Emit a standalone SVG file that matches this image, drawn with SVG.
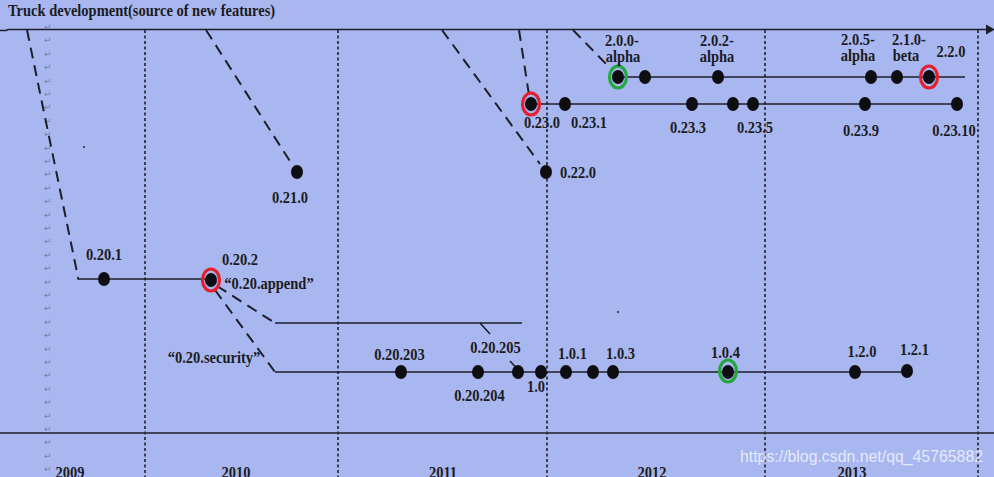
<svg xmlns="http://www.w3.org/2000/svg" width="994" height="477" viewBox="0 0 994 477">
<style>
.t{font-family:"Liberation Serif","Times New Roman",serif;font-weight:bold;font-size:14.5px;fill:#1b1b22;text-anchor:middle;transform-box:fill-box;transform-origin:center;transform:scaleY(1.22)}
.st{text-anchor:start}
.dot{fill:#0d0d12}
.red{fill:none;stroke:#e5202b;stroke-width:3.2}
.grn{fill:none;stroke:#22a83c;stroke-width:3.2}
.sol{fill:none;stroke:#1e1e28;stroke-width:1.6}
.dash{fill:none;stroke:#1e1e28;stroke-width:2;stroke-dasharray:11 7}
.vdot{fill:none;stroke:#2a2a35;stroke-width:1.7;stroke-dasharray:3 2.5}
.pm{font-family:"DejaVu Sans",sans-serif;font-size:9px;fill:#7c8198}
.wm{font-family:"Liberation Sans",Arial,sans-serif;font-size:16px;fill:#ffffff;fill-opacity:0.72}
</style>
<rect width="994" height="477" fill="#a9b7f1"/>

<g id="frame">
<path class="sol" d="M0 30.5 H6 L8 29.5 H988"/>
<polygon points="986,24.5 995,29.5 986,34.5" fill="#1e1e28"/>
<line class="sol" x1="0" y1="433" x2="994" y2="433" stroke="#3a3f55"/>
<line class="vdot" x1="145" y1="30" x2="145" y2="477"/>
<line class="vdot" x1="338" y1="30" x2="338" y2="477"/>
<line class="vdot" x1="547" y1="30" x2="547" y2="477"/>
<line class="vdot" x1="765" y1="30" x2="765" y2="477"/>
<line class="vdot" x1="978" y1="30" x2="978" y2="477"/>
</g>

<text class="t st" x="8" y="15">Truck development(source of new features)</text>

<g id="paramarks" class="pm">
<text x="44" y="30">↵</text><text x="44" y="43.4">↵</text><text x="44" y="56.8">↵</text><text x="44" y="70.2">↵</text><text x="44" y="83.6">↵</text><text x="44" y="97">↵</text><text x="44" y="110.4">↵</text><text x="44" y="123.8">↵</text><text x="44" y="137.2">↵</text><text x="44" y="150.6">↵</text><text x="44" y="164">↵</text><text x="44" y="177.4">↵</text><text x="44" y="190.8">↵</text><text x="44" y="204.2">↵</text><text x="44" y="217.6">↵</text><text x="44" y="231">↵</text><text x="44" y="244.4">↵</text><text x="44" y="257.8">↵</text><text x="44" y="271.2">↵</text><text x="44" y="284.6">↵</text><text x="44" y="298">↵</text><text x="44" y="311.4">↵</text><text x="44" y="324.8">↵</text><text x="44" y="338.2">↵</text><text x="44" y="351.6">↵</text><text x="44" y="365">↵</text><text x="44" y="378.4">↵</text><text x="44" y="391.8">↵</text><text x="44" y="405.2">↵</text><text x="44" y="418.6">↵</text><text x="44" y="432">↵</text><text x="44" y="445.4">↵</text><text x="44" y="458.8">↵</text><text x="44" y="472.2">↵</text>
</g>

<g id="connectors">
<line class="dash" x1="27" y1="30" x2="78" y2="277"/>
<polyline class="sol" points="78,277 78,279 211,279"/>
<line class="dash" x1="206" y1="30" x2="293" y2="166"/>
<line class="dash" x1="442" y1="30" x2="540" y2="164"/>
<line class="dash" x1="519" y1="30" x2="529" y2="95"/>
<line class="dash" x1="573" y1="30" x2="610" y2="68"/>
<line class="sol" x1="531" y1="104" x2="957" y2="104"/>
<line class="sol" x1="618" y1="77" x2="965" y2="77"/>
<line class="dash" x1="217" y1="286" x2="275" y2="323"/>
<line class="dash" x1="215" y1="290" x2="275" y2="372"/>
<line class="sol" x1="275" y1="323" x2="522" y2="323"/>
<line class="sol" x1="480" y1="323" x2="490" y2="334"/>
<line class="sol" x1="510" y1="361" x2="520" y2="372"/>
<line class="sol" x1="275" y1="372" x2="907" y2="372"/>
</g>

<g id="n-2.0.0-alpha"><ellipse class="dot" cx="618" cy="77" rx="6" ry="7"/><ellipse class="grn" cx="618" cy="77" rx="8.5" ry="11"/><text class="t" x="622" y="45">2.0.0-</text><text class="t" x="623" y="61">alpha</text></g>
<g id="n-645"><ellipse class="dot" cx="645" cy="77" rx="6" ry="7"/></g>
<g id="n-2.0.2-alpha"><ellipse class="dot" cx="718" cy="77" rx="6" ry="7"/><text class="t" x="717" y="45">2.0.2-</text><text class="t" x="717" y="61">alpha</text></g>
<g id="n-2.0.5-alpha"><ellipse class="dot" cx="871" cy="77" rx="6" ry="7"/><text class="t" x="858" y="44">2.0.5-</text><text class="t" x="858" y="60">alpha</text></g>
<g id="n-2.1.0-beta"><ellipse class="dot" cx="897" cy="77" rx="6" ry="7"/><text class="t" x="909" y="44">2.1.0-</text><text class="t" x="906" y="60">beta</text></g>
<g id="n-2.2.0"><ellipse class="dot" cx="929" cy="77" rx="6" ry="7"/><ellipse class="red" cx="929" cy="77" rx="8.5" ry="11"/><text class="t" x="951" y="56">2.2.0</text></g>

<g id="n-0.23.0"><ellipse class="dot" cx="531" cy="104" rx="6" ry="7"/><ellipse class="red" cx="531" cy="104" rx="8.5" ry="11"/><text class="t" x="542" y="127">0.23.0</text></g>
<g id="n-0.23.1"><ellipse class="dot" cx="565" cy="104" rx="6" ry="7"/><text class="t" x="589" y="127">0.23.1</text></g>
<g id="n-0.23.3"><ellipse class="dot" cx="692" cy="104" rx="6" ry="7"/><text class="t" x="688" y="132">0.23.3</text></g>
<g id="n-733"><ellipse class="dot" cx="733" cy="104" rx="6" ry="7"/></g>
<g id="n-0.23.5"><ellipse class="dot" cx="753" cy="104" rx="6" ry="7"/><text class="t" x="755" y="132">0.23.5</text></g>
<g id="n-0.23.9"><ellipse class="dot" cx="865" cy="104" rx="6" ry="7"/><text class="t" x="861" y="135">0.23.9</text></g>
<g id="n-0.23.10"><ellipse class="dot" cx="957" cy="104" rx="6" ry="7"/><text class="t" x="954" y="135">0.23.10</text></g>

<g id="n-0.21.0"><ellipse class="dot" cx="297" cy="172" rx="6" ry="7"/><text class="t" x="290" y="202">0.21.0</text></g>
<g id="n-0.22.0"><ellipse class="dot" cx="546" cy="172" rx="6" ry="7"/><text class="t" x="578" y="177">0.22.0</text></g>

<g id="n-0.20.1"><ellipse class="dot" cx="104" cy="279" rx="6" ry="7"/><text class="t" x="104" y="259">0.20.1</text></g>
<g id="n-0.20.2"><ellipse class="dot" cx="211" cy="280" rx="6" ry="7"/><ellipse class="red" cx="211" cy="280" rx="8.5" ry="11"/><text class="t" x="240" y="264">0.20.2</text><text class="t" x="269" y="288">“0.20.append”</text></g>
<g id="branch-security"><text class="t" x="214" y="362">“0.20.security”</text></g>

<g id="n-0.20.203"><ellipse class="dot" cx="401" cy="372" rx="6" ry="7"/><text class="t" x="399.5" y="359">0.20.203</text></g>
<g id="n-0.20.204"><ellipse class="dot" cx="478" cy="372" rx="6" ry="7"/><text class="t" x="479.5" y="400">0.20.204</text></g>
<g id="n-0.20.205"><ellipse class="dot" cx="518" cy="372" rx="6" ry="7"/><text class="t" x="495.5" y="352">0.20.205</text></g>
<g id="n-1.0"><ellipse class="dot" cx="541" cy="372" rx="6" ry="7"/><text class="t" x="536" y="391">1.0</text></g>
<g id="n-1.0.1"><ellipse class="dot" cx="566" cy="372" rx="6" ry="7"/><text class="t" x="572.5" y="358">1.0.1</text></g>
<g id="n-593"><ellipse class="dot" cx="593" cy="372" rx="6" ry="7"/></g>
<g id="n-1.0.3"><ellipse class="dot" cx="613" cy="372" rx="6" ry="7"/><text class="t" x="620.5" y="358">1.0.3</text></g>
<g id="n-1.0.4"><ellipse class="dot" cx="728" cy="372" rx="6" ry="7"/><ellipse class="grn" cx="728" cy="371" rx="8.5" ry="11"/><text class="t" x="725.5" y="357">1.0.4</text></g>
<g id="n-1.2.0"><ellipse class="dot" cx="855" cy="372" rx="6" ry="7"/><text class="t" x="862" y="356">1.2.0</text></g>
<g id="n-1.2.1"><ellipse class="dot" cx="907" cy="371" rx="6" ry="7"/><text class="t" x="914.5" y="354">1.2.1</text></g>

<circle cx="84" cy="147" r="1" fill="#222"/>
<circle cx="618" cy="312" r="1" fill="#222"/>

<g id="years">
<text class="t" x="70" y="477">2009</text>
<text class="t" x="236" y="477">2010</text>
<text class="t" x="443" y="477">2011</text>
<text class="t" x="652" y="477">2012</text>
<text class="t" x="852" y="477">2013</text>
</g>

<text class="wm" x="740" y="462" textLength="243" lengthAdjust="spacingAndGlyphs">https://blog.csdn.net/qq_45765882</text>
</svg>
